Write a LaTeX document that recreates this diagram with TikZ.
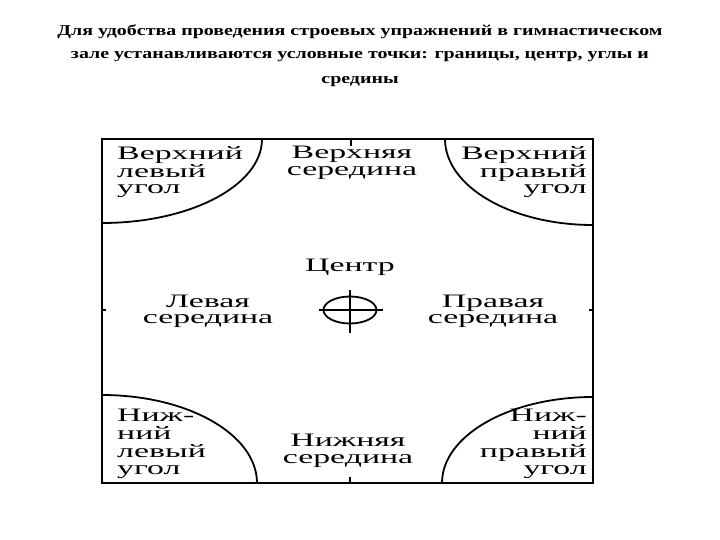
\documentclass[tikz,border=0pt]{standalone}
\usepackage{fontspec}
\usepackage{graphicx}
\setmainfont{Liberation Serif}
\usetikzlibrary{shapes.geometric}
\newcommand{\wide}[1]{\scalebox{1.78}[1]{#1}}
\newcommand{\twide}[1]{\scalebox{1.33}[1]{#1}}
\begin{document}
\begin{tikzpicture}[x=1pt,y=-1pt,
  ttl/.style={font=\bfseries\fontsize{15}{16}\selectfont, anchor=center, inner sep=0pt},
  lbl/.style={font=\fontsize{19}{16.5}\selectfont, inner sep=0pt},
  arcl/.style={line width=1.8pt}]
\useasboundingbox (0,0) rectangle (720,540);
\fill[white] (0,0) rectangle (720,540);
\node[ttl] (t1) at (360,32) {\twide{Для удобства проведения строевых упражнений в гимнастическом}};
\node[ttl] (t2) at (360,57) {\twide{зале устанавливаются условные точки: границы, центр, углы и}};
\node[ttl] (t3) at (360,82) {\twide{средины}};
\draw[line width=2.6pt] (102,139) rectangle (593,483);
% corner arcs
\draw[arcl] (262,139) arc[start angle=0,end angle=90,x radius=160,y radius=84];
\draw[arcl] (445,139) arc[start angle=180,end angle=90,x radius=148,y radius=86];
\draw[arcl] (102,395) arc[start angle=270,end angle=360,x radius=155,y radius=88];
\draw[arcl] (593,397) arc[start angle=270,end angle=180,x radius=151,y radius=86];
% ticks
\draw[line width=1.5pt] (351,139) -- (351,146);
\draw[line width=1.5pt] (350,483) -- (350,477);
\draw[line width=1.2pt] (102,310) -- (106,310);
\draw[line width=1.2pt] (593,310) -- (589,310);
% center mark
\node[draw, ellipse, line width=1.8pt, minimum width=53pt, minimum height=27pt, inner sep=0pt] (c) at (350,310) {};
\draw[line width=1.8pt] (319,310) -- (383,310);
\draw[line width=1.8pt] (350,290) -- (350,333);
% labels
\node[lbl, anchor=north west] (tl) at (117,146) {\wide{\begin{tabular}{@{}l@{}}Верхний\\левый\\угол\end{tabular}}};
\node[lbl, anchor=north] (tm) at (352,146) {\wide{\begin{tabular}{@{}c@{}}Верхняя\\середина\end{tabular}}};
\node[lbl, anchor=north east] (tr) at (587,146) {\wide{\begin{tabular}{@{}r@{}}Верхний\\правый\\угол\end{tabular}}};
\node[lbl] (cc) at (350,267) {\wide{Центр}};
\node[lbl] (lm) at (208,312) {\wide{\begin{tabular}{@{}c@{}}Левая\\середина\end{tabular}}};
\node[lbl] (rm) at (493,312) {\wide{\begin{tabular}{@{}c@{}}Правая\\середина\end{tabular}}};
\node[lbl, anchor=north west] (bl) at (117,409) {\wide{\begin{tabular}{@{}l@{}}Ниж-\\ний\\левый\\угол\end{tabular}}};
\node[lbl, anchor=north] (bm) at (348,434) {\wide{\begin{tabular}{@{}c@{}}Нижняя\\середина\end{tabular}}};
\node[lbl, anchor=north east] (br) at (587,409) {\wide{\begin{tabular}{@{}r@{}}Ниж-\\ний\\правый\\угол\end{tabular}}};
\end{tikzpicture}
\end{document}
